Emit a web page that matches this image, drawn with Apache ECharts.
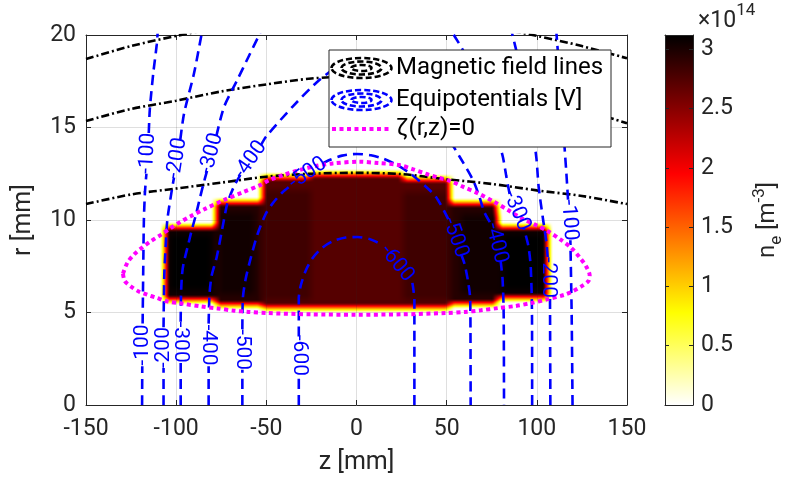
<!DOCTYPE html>
<html><head><meta charset="utf-8">
<script src="https://cdn.jsdelivr.net/npm/echarts@6/dist/echarts.min.js"></script>
<style>html,body{margin:0;padding:0;background:#fff}#c{width:786px;height:489px}</style>
</head><body><div id="c"></div>
<script>
// ---------- axes / ticks ----------
const xTicks = [-150, -100, -50, 0, 50, 100, 150];
const yTicks = [0, 5, 10, 15, 20];
const cbTicks = [0, 0.5, 1, 1.5, 2, 2.5, 3];
const cbMax = 3.12; // colour scale maximum, x10^14 m^-3

// ---------- electron density blocks (z, r in mm; n_e in 1e14 m^-3) ----------
const densZ0 = [-106, -78, -52.5, -26, 26, 52, 78];
const densZ1 = [-78, -52.5, -26, 26, 52, 78, 106];
const densR0 = [5.7, 5.4, 5.25, 5.25, 5.25, 5.45, 5.8];
const densR1 = [9.6, 11.0, 12.35, 12.5, 12.2, 10.9, 9.62];
const densV  = [3.05, 2.95, 2.73, 2.73, 2.73, 2.95, 3.05];
// inner cores of the blocks
const coreZ0 = [-103.5, -76.5, -51.5, 25.6, 58, 81];
const coreZ1 = [-80.5, -57, -25.5, 51.8, 78.5, 103.5];
const coreR0 = [6.2, 6.0, 5.7, 5.7, 6.0, 6.2];
const coreR1 = [9.2, 10.45, 11.6, 11.5, 10.3, 9.2];
const coreV  = [3.12, 3.04, 2.83, 2.83, 3.04, 3.12];

// ---------- magnetic field lines ----------
const fieldZ  = [-150, -125, -100, -75, -50, -25, 0, 25, 50, 75, 100, 125, 150];
const field1R = [18.7, 19.4, 19.95, 20.4, 20.7, 20.9, 21.0, 20.9, 20.7, 20.4, 19.95, 19.4, 18.74];
const field2R = [15.35, 16.0, 16.45, 16.95, 17.33, 17.65, 17.75, 17.65, 17.33, 16.95, 16.45, 15.95, 15.23];
const field3R = [10.86, 11.38, 11.7, 12.02, 12.34, 12.5, 12.55, 12.48, 12.2, 11.95, 11.6, 11.3, 10.86];

// ---------- equipotentials [z, r]; null = gap for a label ----------
const eqM100 = [[-118.9,0],[-118.8,2.1],null,[-118.6,4.4],[-118.3,7],[-117.9,10],[-117.3,11.5],[-116.5,12.5],null,[-115.2,14.7],[-114.6,16],[-112.7,17.93],[-110.8,19.46],[-110.2,20.2]];
const eqM100b = [[119.8,0],[119.3,5],[118.6,8.9],null,[117.3,11.1],[116.4,12.5],[115.4,13.9],[114,16],[112.5,18],[110.8,20.2]];
const eqM200 = [[-107,0],[-107,2.0],null,[-107,4.2],[-106.6,7],[-105.8,8.6],[-104.9,10],[-102.7,11.44],[-101.2,12.3],null,[-97.7,14.35],[-95.6,15.77],[-90.1,17.93],[-86,20],[-85,20.5]];
const eqM200b = [[107.5,0],[107.3,5.8],null,[106,8],[105.3,8.8],[103.5,10],[101,11.8],[99.8,13.3],[97.5,15],[93.5,17],[89.5,18.8],[86.5,20],[85,20.6]];
const eqM300 = [[-97.5,0],[-97.5,2.3],null,[-97.5,4.5],[-97.3,6],[-96.8,7],[-96,7.6],[-93.5,8.6],[-91.5,9.4],[-89,10.3],[-86.8,11.2],[-85,11.9],[-82.9,12.66],null,[-77.7,14.54],[-73.5,16.1],[-66.1,17.57],[-60,18.8],[-54,20],[-52,20.4]];
const eqM300b = [[97.4,0],[97.3,5],[96.6,7.5],[95.3,8.6],[92.7,9.6],null,[84.9,11.4],[83,12.4],[81.3,13.35],[79.5,14],[76,15],[69,17],[60,19],[54,20],[51,20.5]];
const eqM400 = [[-82,0],[-82,2.1],null,[-82,4.4],[-81.5,6],[-80.3,7],[-77.5,8],[-74.5,9.5],[-71.6,10.9],[-68,11.8],[-64.4,12.44],null,[-53,14.04],[-50.2,14.5],[-35.4,16.13],[-20.6,17.57],[-10,18.3],[0,18.55],[10,18.3],[20.6,17.57],[35.4,16.13],[50.2,14.5],[57.2,13.42],[64.6,12.16],[68,11.3],[71,10.4],[75.1,9.7],null,[79.9,7.8],[81,6.8],[81.6,5],[81.8,0]];
const eqM500 = [[-63.3,0],[-63.3,1.9],null,[-63.3,4.1],[-63,5.8],[-61.5,6.8],[-58.5,8],[-55,9.2],[-50.5,10.3],[-46.5,10.9],[-41,11.5],[-35.2,11.95],null,[-18.8,13.06],[-15,13.24],[-8,13.48],[0,13.57],[8,13.5],[14.5,13.33],[22,13.0],[30,12.5],[38.5,11.8],[44,11.26],[48.5,10.5],[51.4,9.95],null,[58,8.15],[60,7.6],[62,6.6],[63,5.8],[63.2,4],[63.3,0]];
const eqM600 = [[-32,0],[-32,1.6],null,[-32,3.7],[-32,5.78],[-30.8,6.5],[-28,7.3],[-24.3,7.95],[-19,8.5],[-13.2,8.85],[-6,9.05],[0.6,9.08],[7,8.98],[13.5,8.7],null,[31,6.6],[32.1,5.7],[32.1,0]];
const eqLines = [eqM100, eqM100b, eqM200, eqM200b, eqM300, eqM300b, eqM400, eqM500, eqM600];

// contour labels
const eqLabelText = ['-100','-200','-300','-400','-500','-600','-100','-200','-300','-400','-500','-600','-500','-400','-300','-200','-100'];
const eqLabelZ = [-118.8,-107,-97.5,-82,-63.3,-32, -115.8,-99.4,-80.3,-58.7,-27, 22.3,54.7,77.5,88.8,106.6,117.9];
const eqLabelR = [3.24,3.1,3.4,3.24,3.0,2.68, 13.6,13.34,13.6,13.24,12.52, 7.65,9.05,8.75,10.5,6.9,10.0];
const eqLabelRot = [90,90,-90,-90,-90,-90, 87,81,75,55,35, -51,-70,-76,-67,-90,-86];

// ---------- zeta(r,z)=0 contour ----------
const zetaZ = [-129.5,-127,-123.4,-119,-114.1,-108.5,-103,-97.5,-92,-84,-73.5,-63,-53.1,-48.3,-40,-31.7,-22,-13.2,1.6,12,23.7,31,38.5,45,51.8,59,67.4,76,84,91.4,99,106.2,113,119.1,124,127.3,129.3,128.6,124.7,120,115.4,106,96.9,88,78.5,69,60,50,25,0,-25,-49.5,-60,-68,-77,-86.4,-96,-105,-111,-116,-121,-125.2,-128.5,-129.5];
const zetaR = [7.1,7.7,8.13,8.5,8.85,9.2,9.57,9.9,10.2,10.6,11.08,11.5,11.9,12.16,12.45,12.7,12.93,13.06,13.15,13.08,12.97,12.75,12.5,12.3,12.12,11.8,11.44,11.0,10.54,10.1,9.75,9.39,8.95,8.49,7.95,7.5,7.0,6.7,6.41,6.15,5.96,5.72,5.51,5.35,5.24,5.12,5.03,4.97,4.9,4.88,4.9,4.97,5.03,5.1,5.22,5.33,5.47,5.6,5.8,5.96,6.15,6.41,6.7,7.1];

// ---------- helpers ----------
const TXT = '#262626';
const FONT = 'Roboto';
function hotRev(v) {
  const t = Math.max(0, Math.min(1, v / cbMax));
  const s = 1 - t;
  const cl = x => Math.max(0, Math.min(1, x));
  return [Math.round(255 * cl(s / 0.375)), Math.round(255 * cl((s - 0.375) / 0.375)), Math.round(255 * cl((s - 0.75) / 0.25))];
}
function toLineData(arr) { return arr.map(p => p === null ? ['-', '-'] : p); }

function boxBlur(f, g, W, H, R) {
  const n = 2 * R + 1;
  for (let y = 0; y < H; y++) for (let x = 0; x < W; x++) {
    let s = 0; for (let k = -R; k <= R; k++) { const xx = x + k; if (xx >= 0 && xx < W) s += f[y * W + xx]; }
    g[y * W + x] = s / n;
  }
  for (let y = 0; y < H; y++) for (let x = 0; x < W; x++) {
    let s = 0; for (let k = -R; k <= R; k++) { const yy = y + k; if (yy >= 0 && yy < H) s += g[yy * W + x]; }
    f[y * W + x] = s / n;
  }
}

function densityItem(params, api) {
  const rects = [];
  const add = (z0, z1, r0, r1, v) => {
    const a = api.coord([z0, r1]), b = api.coord([z1, r0]);
    rects.push([a[0], a[1], b[0], b[1], v]);
  };
  for (let i = 0; i < densV.length; i++) add(densZ0[i], densZ1[i], densR0[i], densR1[i], densV[i]);
  for (let i = 0; i < coreV.length; i++) add(coreZ0[i], coreZ1[i], coreR0[i], coreR1[i], coreV[i]);
  let x0 = Infinity, y0 = Infinity, x1 = -Infinity, y1 = -Infinity;
  rects.forEach(q => { x0 = Math.min(x0, q[0]); y0 = Math.min(y0, q[1]); x1 = Math.max(x1, q[2]); y1 = Math.max(y1, q[3]); });
  const pad = 14;
  x0 = Math.floor(x0 - pad); y0 = Math.floor(y0 - pad); x1 = Math.ceil(x1 + pad); y1 = Math.ceil(y1 + pad);
  const W = x1 - x0, H = y1 - y0;
  const f = new Float32Array(W * H), g = new Float32Array(W * H);
  rects.forEach(q => {
    const ax = Math.round(q[0] - x0), bx = Math.round(q[2] - x0), ay = Math.round(q[1] - y0), by = Math.round(q[3] - y0);
    for (let y = ay; y < by; y++) for (let x = ax; x < bx; x++) f[y * W + x] = q[4];
  });
  boxBlur(f, g, W, H, 4);
  boxBlur(f, g, W, H, 1);
  const cv = document.createElement('canvas'); cv.width = W; cv.height = H;
  const ctx = cv.getContext('2d'); const img = ctx.createImageData(W, H);
  for (let i = 0; i < W * H; i++) {
    const c = hotRev(f[i]);
    img.data[i * 4] = c[0]; img.data[i * 4 + 1] = c[1]; img.data[i * 4 + 2] = c[2]; img.data[i * 4 + 3] = 255;
  }
  ctx.putImageData(img, 0, 0);
  return { type: 'image', style: { image: cv, x: x0, y: y0, width: W, height: H } };
}

function labelItem(params, api) {
  const p = api.coord([api.value(0), api.value(1)]);
  return {
    type: 'text', x: p[0], y: p[1], rotation: api.value(2) * Math.PI / 180,
    style: { text: eqLabelText[params.dataIndex], fill: '#0000ff', font: '21px ' + FONT, align: 'center', verticalAlign: 'middle' }
  };
}

function colorbarItem(params, api) {
  const a = api.coord([0, cbMax]), b = api.coord([1, 0]);
  return {
    type: 'rect', shape: { x: a[0], y: a[1], width: b[0] - a[0], height: b[1] - a[1] },
    style: { fill: new echarts.graphic.LinearGradient(0, 0, 0, 1, [
      { offset: 0, color: 'rgb(' + hotRev(cbMax).join(',') + ')' },
      { offset: 0.375, color: 'rgb(' + hotRev(cbMax * 0.625).join(',') + ')' },
      { offset: 0.75, color: 'rgb(' + hotRev(cbMax * 0.25).join(',') + ')' },
      { offset: 1, color: 'rgb(' + hotRev(0).join(',') + ')' }
    ]) }
  };
}

const axisLineStyle = { show: true, onZero: false, lineStyle: { color: TXT, width: 1 } };
const tickStyle = { show: true, inside: true, length: 5, lineStyle: { color: TXT, width: 1 } };

const series = [];
series.push({ type: 'custom', name: 'density', xAxisIndex: 0, yAxisIndex: 0, z: 2, silent: true, renderItem: densityItem, data: [[0, 10]] });
[field1R, field2R, field3R].forEach(rr => series.push({
  type: 'line', xAxisIndex: 0, yAxisIndex: 0, z: 4, showSymbol: false, smooth: 0.3, silent: true,
  data: fieldZ.map((z, i) => [z, rr[i]]),
  lineStyle: { color: '#000', width: 2.6, type: [8, 3, 2, 3] }
}));
eqLines.forEach(arr => series.push({
  type: 'line', xAxisIndex: 0, yAxisIndex: 0, z: 4, showSymbol: false, smooth: 0.25, silent: true,
  data: toLineData(arr),
  lineStyle: { color: '#0000ff', width: 2.6, type: [10, 6] }
}));
series.push({
  type: 'line', xAxisIndex: 0, yAxisIndex: 0, z: 5, showSymbol: false, smooth: 0.3, silent: true,
  data: zetaZ.map((z, i) => [z, zetaR[i]]),
  lineStyle: { color: '#ff00ff', width: 4, type: [4, 3.5], cap: 'butt' }
});
series.push({
  type: 'custom', xAxisIndex: 0, yAxisIndex: 0, z: 6, silent: true, renderItem: labelItem,
  data: eqLabelZ.map((z, i) => [z, eqLabelR[i], eqLabelRot[i]])
});
series.push({ type: 'custom', xAxisIndex: 2, yAxisIndex: 2, z: 2, silent: true, renderItem: colorbarItem, data: [[0, 0]] });

const legendX = 329, legendY = 50, legendW = 282, legendH = 97;
function ellipses(cx, cy, color) {
  return [[30, 10], [20, 6.5], [10, 3]].map(r => ({
    type: 'ellipse', shape: { cx: cx, cy: cy, rx: r[0], ry: r[1] },
    style: { fill: null, stroke: color, lineWidth: 2.6, lineDash: [6, 3] }
  }));
}
const graphicEls = [
  { type: 'rect', shape: { x: legendX, y: legendY, width: legendW, height: legendH }, style: { fill: '#fff', stroke: TXT, lineWidth: 1 } },
  ...ellipses(361.5, 68, '#000'),
  ...ellipses(361.5, 100, '#0000ff'),
  { type: 'line', shape: { x1: 332, y1: 129, x2: 392, y2: 129 }, style: { stroke: '#ff00ff', lineWidth: 4, lineDash: [4, 3.5] } },
  { type: 'text', x: 396, y: 68, style: { text: 'Magnetic field lines', font: '24px ' + FONT, fill: '#000', verticalAlign: 'middle' } },
  { type: 'text', x: 396, y: 100, style: { text: 'Equipotentials [V]', font: '24px ' + FONT, fill: '#000', verticalAlign: 'middle' } },
  { type: 'text', x: 396, y: 129, style: { text: 'ζ(r,z)=0', font: '24px ' + FONT, fill: '#000', verticalAlign: 'middle' } },
  { type: 'text', x: 698, y: 2, style: { text: '{a|×10}{b|14}', rich: { a: { fontSize: 23, fontFamily: FONT, fill: TXT, padding: [8, 0, 0, 0] }, b: { fontSize: 17, fontFamily: FONT, fill: TXT, verticalAlign: 'top' } } } }
];

const option = {
  animation: false,
  backgroundColor: '#fff',
  grid: [
    { left: 86, top: 35, width: 541, height: 370 },
    { left: 665, top: 35, width: 32, height: 370 }
  ],
  xAxis: [
    { type: 'value', gridIndex: 0, min: xTicks[0], max: xTicks[xTicks.length - 1], interval: 50, z: 3,
      axisLine: axisLineStyle, axisTick: tickStyle,
      axisLabel: { color: TXT, fontSize: 23, fontFamily: FONT, margin: 13 },
      splitLine: { show: true, lineStyle: { color: 'rgba(38,38,38,0.15)', width: 1 } },
      name: 'z [mm]', nameLocation: 'middle', nameGap: 45, nameTextStyle: { color: TXT, fontSize: 25, fontFamily: FONT } },
    { type: 'value', gridIndex: 0, position: 'top', min: -150, max: 150, interval: 50, z: 3,
      axisLine: axisLineStyle, axisTick: tickStyle, axisLabel: { show: false }, splitLine: { show: false } },
    { type: 'value', gridIndex: 1, min: 0, max: 1, z: 3, axisLine: axisLineStyle, axisTick: { show: false }, axisLabel: { show: false }, splitLine: { show: false } },
    { type: 'value', gridIndex: 1, position: 'top', min: 0, max: 1, z: 3, axisLine: axisLineStyle, axisTick: { show: false }, axisLabel: { show: false }, splitLine: { show: false } }
  ],
  yAxis: [
    { type: 'value', gridIndex: 0, min: yTicks[0], max: yTicks[yTicks.length - 1], interval: 5, z: 3,
      axisLine: axisLineStyle, axisTick: tickStyle,
      axisLabel: { color: TXT, fontSize: 23, fontFamily: FONT, margin: 10 },
      splitLine: { show: true, lineStyle: { color: 'rgba(38,38,38,0.15)', width: 1 } },
      name: 'r [mm]', nameLocation: 'middle', nameGap: 50, nameRotate: 90, nameTextStyle: { color: TXT, fontSize: 25, fontFamily: FONT } },
    { type: 'value', gridIndex: 0, position: 'right', min: 0, max: 20, interval: 5, z: 3,
      axisLine: axisLineStyle, axisTick: tickStyle, axisLabel: { show: false }, splitLine: { show: false } },
    { type: 'value', gridIndex: 1, position: 'right', min: 0, max: cbMax, interval: 0.5, z: 3,
      axisLine: axisLineStyle, axisTick: { show: true, inside: true, length: 4, lineStyle: { color: TXT } },
      axisLabel: { color: TXT, fontSize: 23, fontFamily: FONT, margin: 8, showMaxLabel: false, formatter: v => cbTicks.indexOf(v) >= 0 ? String(v) : '' },
      splitLine: { show: false },
      name: '{n|n}{s|e}{n| [m}{p|-3}{n|]}', nameLocation: 'middle', nameRotate: 90, nameGap: 58,
      nameTextStyle: { rich: {
        n: { fontSize: 24, fontFamily: FONT, color: TXT, lineHeight: 34 },
        s: { fontSize: 17, fontFamily: FONT, color: TXT, lineHeight: 34, verticalAlign: 'bottom' },
        p: { fontSize: 17, fontFamily: FONT, color: TXT, lineHeight: 34, verticalAlign: 'top' } } } },
    { type: 'value', gridIndex: 1, position: 'left', min: 0, max: cbMax, interval: 0.5, z: 3,
      axisLine: axisLineStyle, axisTick: { show: true, inside: true, length: 4, lineStyle: { color: TXT } }, axisLabel: { show: false }, splitLine: { show: false } }
  ],
  graphic: { elements: graphicEls.map(e => Object.assign({ z: 100 }, e)) },
  series: series
};
const chart = echarts.init(document.getElementById('c'));
chart.setOption(option);
</script></body></html>
